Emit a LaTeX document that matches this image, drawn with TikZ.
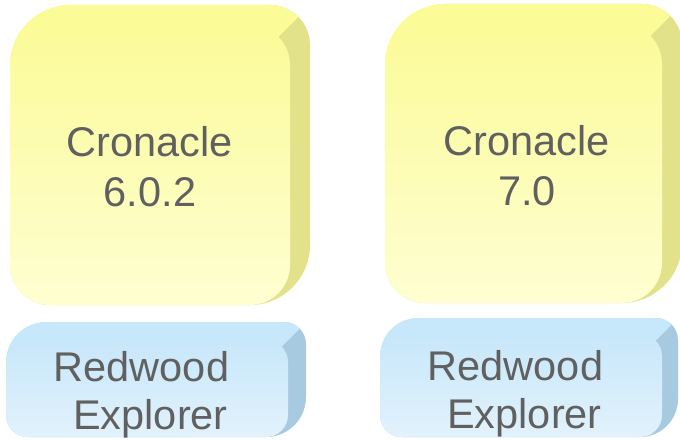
\documentclass[tikz,border=0pt]{standalone}
\usepackage{fontspec}
\setmainfont{Liberation Sans}
\definecolor{yelTop}{HTML}{FBFB98}
\definecolor{yelBot}{HTML}{FEFED2}
\definecolor{yelSide}{HTML}{E2E28A}
\definecolor{bluTop}{HTML}{C7E7FA}
\definecolor{bluBot}{HTML}{E2F2FC}
\definecolor{bluSide}{HTML}{A8CAE0}
\definecolor{labelgray}{HTML}{606060}
\tikzset{boxlabel/.style={anchor=base, text=labelgray, inner sep=0pt, font=\fontsize{41.5}{48}\selectfont}}
\begin{document}
\begin{tikzpicture}[x=1pt,y=-1pt]
\useasboundingbox (0,0) rectangle (680,441);
\foreach \xa/\ya/\xb/\yb/\r/\d/\col in {10/25/290/305/40/20/yel, 385/24/662/303/40/20/yel, 6/340/288/437/22/18/blu, 380/334/662/437/22/16/blu} {
  % slab depth, then top face, then front face
  \pgfmathsetmacro\rr{\r+\d}
  \foreach \i in {0,...,\d} \fill[fill=\col Side, rounded corners=\r] (\xa+\i,\ya-\i) rectangle (\xb+\i,\yb-\i);
  \fill[fill=\col Side] (\xb-\r,\yb) arc[start angle=90, end angle=0, radius=\rr] -- (\xb-\r,\yb-\rr) -- cycle;
  \pgfmathsetmacro\ridge{\xb+\ya}
  \begin{scope}
    \clip (\ridge+500,-500) -- (\ridge-1500,1500) -- (-2000,-2000) -- cycle;
    \foreach \i in {0,...,\d} \fill[fill=\col Top, rounded corners=\r] (\xa+\i,\ya-\i) rectangle (\xb+\i,\yb-\i);
  \end{scope}
  \fill[fill=\col Top] (\xa,\ya+\r) arc[start angle=180, end angle=270, radius=\rr] -- (\xa+\rr,\ya+\r) -- cycle;
  \shade[top color=\col Top, bottom color=\col Bot, rounded corners=\r] (\xa,\ya) rectangle (\xb,\yb);
}
\node[boxlabel] (cron1a) at (150,156.5) {Cronacle};
\node[boxlabel] (cron1b) at (150,206.5) {6.0.2};
\node[boxlabel] (cron2a) at (527,155.5) {Cronacle};
\node[boxlabel] (cron2b) at (527,205.5) {7.0};
\node[boxlabel] (red1a) at (141.5,381.5) {Redwood};
\node[boxlabel] (red1b) at (150.5,429) {Explorer};
\node[boxlabel] (red2a) at (515.5,380) {Redwood};
\node[boxlabel] (red2b) at (524.5,428) {Explorer};
\end{tikzpicture}
\end{document}
